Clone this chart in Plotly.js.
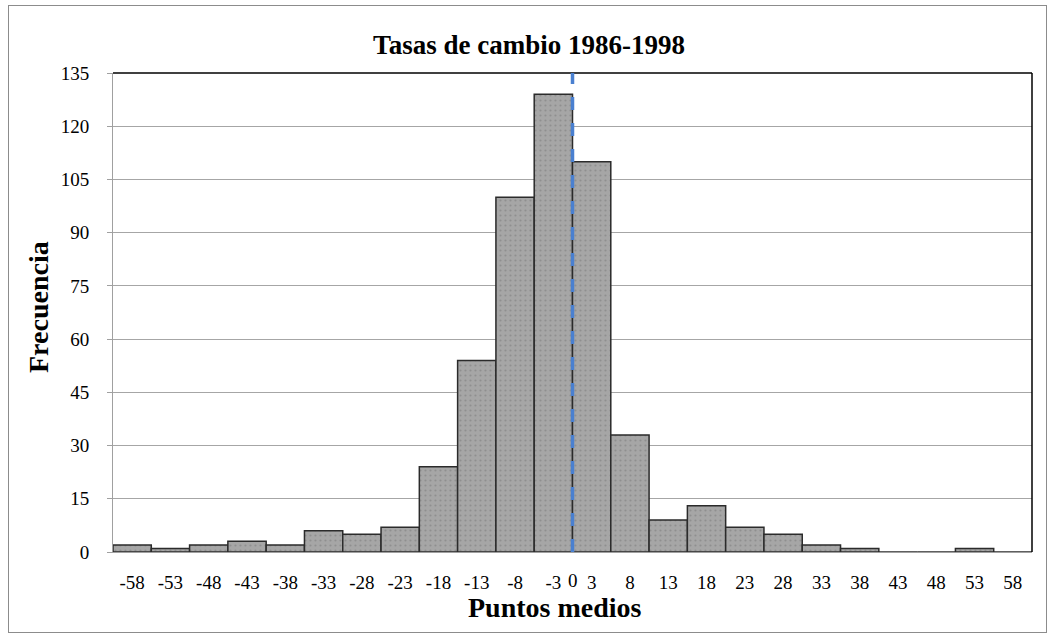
<!DOCTYPE html>
<html>
<head>
<meta charset="utf-8">
<script src="https://cdn.plot.ly/plotly-3.0.1.min.js"></script>
<style>
  html, body { margin: 0; padding: 0; background: #fff; }
  #wrap { position: relative; width: 1053px; height: 635px; }
  #frame { position: absolute; left: 8px; top: 5px; width: 1037px; height: 626px; border: 1px solid #8c8c8c; pointer-events: none; z-index: 5; }
  #chart { position: absolute; left: 0; top: 0; width: 1053px; height: 635px; }
</style>
</head>
<body>
<div id="wrap">
  <div id="chart"></div>
  <div id="frame"></div>
</div>
<script>
// Midpoints of the classes (category labels)
const midpoints = ["-58","-53","-48","-43","-38","-33","-28","-23","-18","-13","-8","-3",
                   "3","8","13","18","23","28","33","38","43","48","53","58"];
// Frequencies
const frequencies = [2,1,2,3,2,6,5,7,24,54,100,129,
                     110,33,9,13,7,5,2,1,0,0,1,0];
// Y axis ticks
const yTicks = [0,15,30,45,60,75,90,105,120,135];
const zeroLabel = "0";
const zeroPosition = 11.5; // boundary between "-3" and "3" categories

const serif = "Liberation Serif, Times New Roman, serif";

const trace = {
  type: "bar",
  x: midpoints,
  y: frequencies,
  marker: {
    color: "#a6a6a6",
    line: { color: "#2b2b2b", width: 1.5 },
    pattern: { shape: ".", bgcolor: "#a6a6a6", fgcolor: "#8f8f8f", size: 5, solidity: 0.15 }
  },
  hoverinfo: "x+y"
};

const layout = {
  width: 1053,
  height: 635,
  margin: { l: 113, r: 21, t: 73, b: 83 },
  paper_bgcolor: "#ffffff",
  plot_bgcolor: "#ffffff",
  bargap: 0,
  showlegend: false,
  title: {
    text: "<b>Tasas de cambio 1986-1998</b>",
    font: { family: serif, size: 27, color: "#000" },
    x: 529 / 1053, xref: "container", xanchor: "center",
    y: 1 - 45 / 635, yref: "container", yanchor: "middle"
  },
  xaxis: {
    type: "category",
    showgrid: false,
    showline: true,
    linecolor: "#a0a0a0",
    linewidth: 1,
    ticks: "",
    ticklabelstandoff: 13,
    tickfont: { family: serif, size: 19, color: "#000" },
    zeroline: false,
    range: [-0.5, 23.5]
  },
  yaxis: {
    range: [0, 135],
    tickvals: yTicks,
    showgrid: true,
    gridcolor: "#a6a6a6",
    gridwidth: 1,
    showline: true,
    linecolor: "#a0a0a0",
    linewidth: 1,
    ticks: "outside",
    ticklen: 5,
    tickcolor: "#a0a0a0",
    ticklabelstandoff: 14,
    tickfont: { family: serif, size: 19, color: "#000" },
    zeroline: false
  },
  shapes: [
    { type: "line", xref: "paper", yref: "paper", x0: 0, x1: 1, y0: 1, y1: 1,
      line: { color: "#000", width: 1.5 } },
    { type: "line", xref: "paper", yref: "paper", x0: 1, x1: 1, y0: 0, y1: 1,
      line: { color: "#000", width: 1.5 } },
    { type: "line", xref: "x", yref: "paper", x0: zeroPosition, x1: zeroPosition, y0: 0, y1: 1,
      layer: "above",
      line: { color: "#4a80d0", width: 3.5, dash: "13px,13px" } }
  ],
  annotations: [
    { text: zeroLabel, xref: "x", yref: "paper", x: zeroPosition, y: -28 / 479,
      xanchor: "center", yanchor: "middle", showarrow: false,
      font: { family: serif, size: 19, color: "#000" } },
    { text: "<b>Frecuencia</b>", xref: "paper", yref: "paper",
      x: (38 - 113) / 919, y: (552 - 307) / 479, xanchor: "center", yanchor: "middle",
      textangle: -90, showarrow: false,
      font: { family: serif, size: 28, color: "#000" } },
    { text: "<b>Puntos medios</b>", xref: "paper", yref: "paper",
      x: (555 - 113) / 919, y: (552 - 607) / 479, xanchor: "center", yanchor: "middle",
      showarrow: false,
      font: { family: serif, size: 28, color: "#000" } }
  ]
};

Plotly.newPlot("chart", [trace], layout, { displayModeBar: false, staticPlot: true });
</script>
</body>
</html>
